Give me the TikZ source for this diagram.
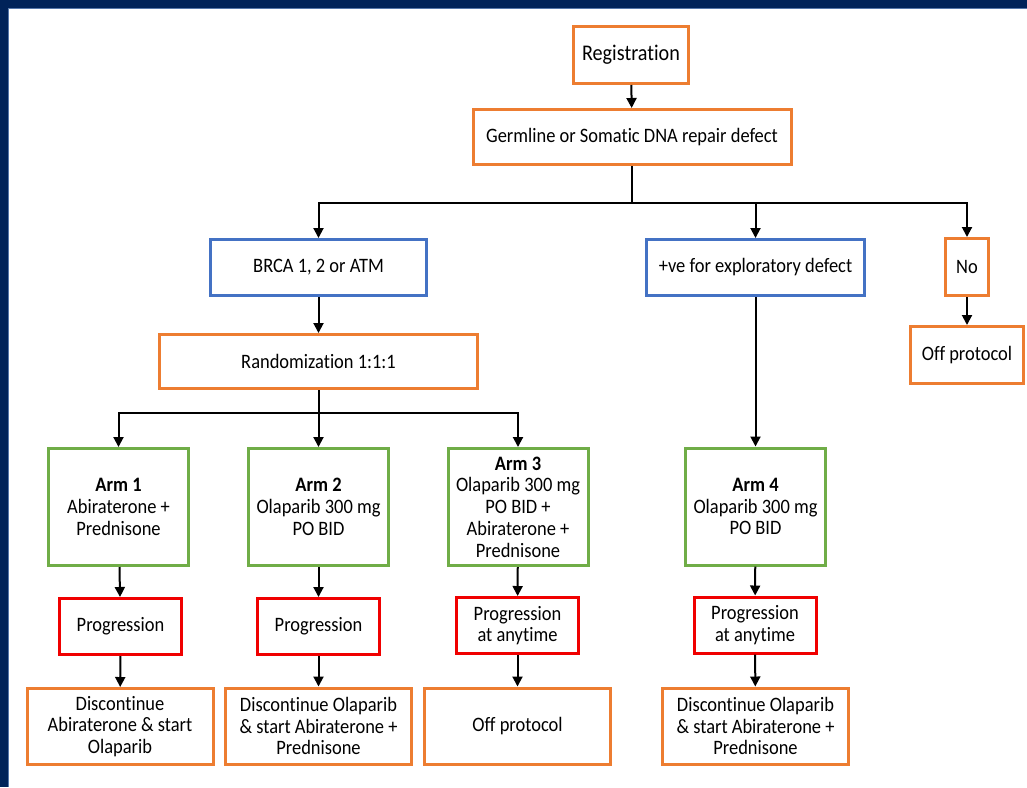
\documentclass[tikz,border=0pt]{standalone}
\usepackage{fontspec}
\setmainfont{Carlito}[Ligatures=NoCommon, FakeStretch=0.9]
\usetikzlibrary{arrows.meta}

\definecolor{frameblue}{HTML}{002359}
\definecolor{edgeblue}{HTML}{5577AA}
\definecolor{boxorange}{HTML}{ED7D31}
\definecolor{boxblue}{HTML}{4472C4}
\definecolor{boxgreen}{HTML}{70AD47}
\definecolor{boxred}{HTML}{F00000}

\begin{document}
\begin{tikzpicture}[
  x=1pt, y=-1pt,
  font=\fontsize{20.5}{21.8}\selectfont,
  base/.style={draw, fill=white, line width=3pt, align=center, inner sep=2pt},
  orangebox/.style={base, draw=boxorange},
  bluebox/.style={base, draw=boxblue},
  armbox/.style={base, draw=boxgreen, minimum width=140pt, minimum height=117pt},
  progbox/.style={base, draw=boxred, minimum width=122pt, minimum height=56pt},
  endbox/.style={orangebox, minimum width=186pt, minimum height=76pt},
  flow/.style={-{Triangle[length=10pt,width=10pt]}, line width=2pt},
  link/.style={line width=2pt}
]
\useasboundingbox (0,0) rectangle (1027,787);

% frame of the slide
\fill[frameblue] (0,0) rectangle (1027,8);
\fill[frameblue] (0,0) rectangle (8,787);
\draw[edgeblue, line width=1pt] (8.5,787) -- (8.5,8.5) -- (1027,8.5);

% screening
\node[orangebox, minimum width=115pt, minimum height=57pt, font=\fontsize{22.4}{24}\selectfont] (reg) at (631,55) {Registration};
\node[orangebox, minimum width=318pt, minimum height=55pt] (germ) at (632,137) {Germline or Somatic DNA repair defect};
\draw[flow] (reg) -- (germ);

\node[bluebox, minimum width=216pt, minimum height=56pt] (brca) at (318.5,267.5) {BRCA 1, 2 or ATM};
\node[bluebox, minimum width=218pt, minimum height=56pt] (expl) at (755.5,267.5) {+ve for exploratory defect};
\node[orangebox, minimum width=43pt, minimum height=57pt] (no) at (967,267) {No};
\node[orangebox, minimum width=113pt, minimum height=57pt] (offA) at (967,355) {Off protocol};

\coordinate (split1) at (632,203);
\draw[link] (germ) -- (split1);
\draw[flow] (split1) -| (brca);
\draw[flow] (split1) -| (expl);
\draw[flow] (split1) -| (no);
\draw[flow] (no) -- (offA);

% randomised arms
\node[orangebox, minimum width=318pt, minimum height=54pt] (rand) at (318.5,361.5) {Randomization 1:1:1};
\draw[flow] (brca) -- (rand);

\node[armbox] (arm1) at (118.5,507) {\textbf{Arm 1}\\Abiraterone +\\Prednisone};
\node[armbox] (arm2) at (318.5,507) {\textbf{Arm 2}\\Olaparib 300 mg\\PO BID};
\node[armbox] (arm3) at (518,507) {\textbf{Arm 3}\\Olaparib 300 mg\\PO BID +\\Abiraterone +\\Prednisone};
\node[armbox] (arm4) at (755.5,506.5) {\textbf{Arm 4}\\Olaparib 300 mg\\PO BID};

\coordinate (split2) at (318.5,413);
\draw[link] (rand) -- (split2);
\draw[flow] (split2) -| (arm1);
\draw[flow] (split2) -- (arm2);
\draw[flow] (split2) -| (arm3);
\draw[flow] (expl) -- (arm4);

% progression
\node[progbox] (prog1) at (120.5,626.5) {Progression};
\node[progbox] (prog2) at (318.5,626.5) {Progression};
\node[progbox] (prog3) at (517.5,625.5) {Progression\\at anytime};
\node[progbox] (prog4) at (755,625) {Progression\\at anytime};

\node[endbox] (disc1) at (120,726.5) {Discontinue\\Abiraterone \& start\\Olaparib};
\node[endbox] (disc2) at (318.5,726) {Discontinue Olaparib\\\& start Abiraterone +\\Prednisone};
\node[endbox] (offB) at (517.5,726) {Off protocol};
\node[endbox] (disc4) at (755.5,726) {Discontinue Olaparib\\\& start Abiraterone +\\Prednisone};

\foreach \i in {1,2,3,4} {
  \draw[flow] (arm\i) -- (prog\i);
}
\draw[flow] (prog1) -- (disc1);
\draw[flow] (prog2) -- (disc2);
\draw[flow] (prog3) -- (offB);
\draw[flow] (prog4) -- (disc4);

\end{tikzpicture}
\end{document}
